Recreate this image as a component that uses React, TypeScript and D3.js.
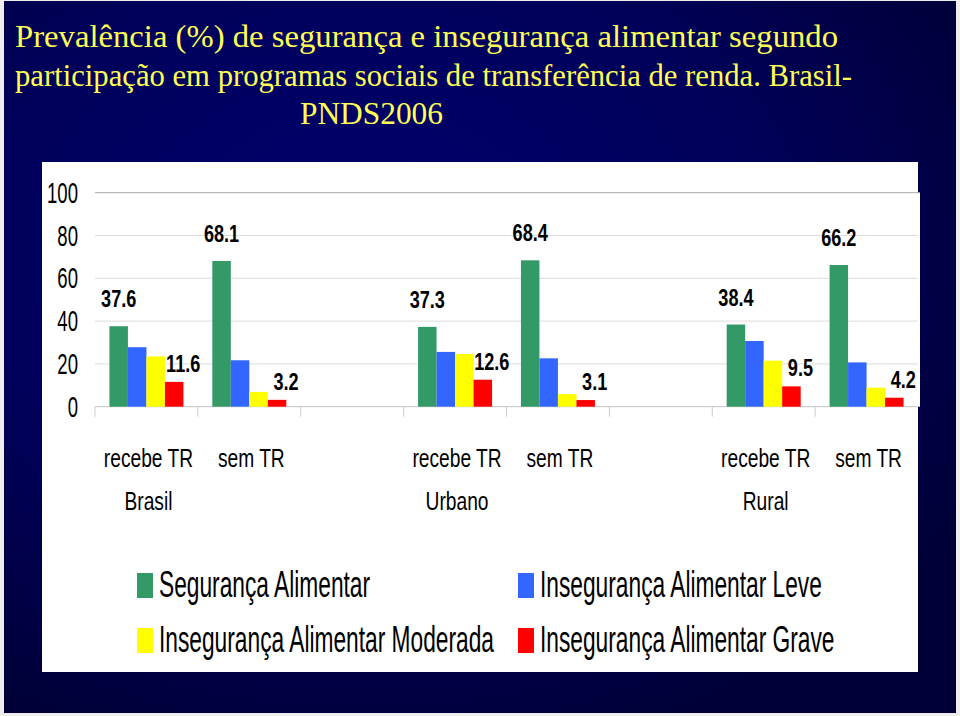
import React from "react";
import * as d3 from "d3";

const titleLines = [
  "Prevalência (%) de segurança e insegurança alimentar segundo",
  "participação em programas sociais de transferência de renda. Brasil-",
  "PNDS2006",
];
const titleWidths = [823, 837, 143];

const categories = [
  "recebe TR\nBrasil",
  "sem TR",
  "",
  "recebe TR\nUrbano",
  "sem TR",
  "",
  "recebe TR\nRural",
  "sem TR",
];

const seriesNames = [
  "Segurança Alimentar",
  "Insegurança Alimentar Leve",
  "Insegurança Alimentar Moderada",
  "Insegurança Alimentar Grave",
];
const seriesColors = ["#339966", "#3366ff", "#ffff00", "#ff0000"];

const seguranca = [37.6, 68.1, null, 37.3, 68.4, null, 38.4, 66.2];
const leve = [27.8, 21.7, null, 25.6, 22.6, null, 30.7, 20.7];
const moderada = [23.5, 6.9, null, 24.6, 5.9, null, 21.5, 8.9];
const grave = [11.6, 3.2, null, 12.6, 3.1, null, 9.5, 4.2];

const yTicks = [0, 20, 40, 60, 80, 100];

const W = 960;
const H = 716;

export default function App() {
  const values = [seguranca, leve, moderada, grave];
  const left = 95;
  const right = 918;
  const top = 192.7;
  const bottom = 406.7;

  const x = d3
    .scaleBand<number>()
    .domain(categories.map((_, i) => i))
    .range([left, right])
    .padding(0);
  const inner = d3
    .scaleBand<number>()
    .domain(seriesNames.map((_, i) => i))
    .range([0, x.bandwidth()])
    .paddingInner(0)
    .paddingOuter(0.78);
  const y = d3.scaleLinear().domain([0, 100]).range([bottom, top]);

  const sansFont = "'Liberation Sans', Arial, sans-serif";

  return (
    <svg
      width={W}
      height={H}
      style={{ position: "absolute", left: 0, top: 0, display: "block" }}
    >
      <defs>
        <radialGradient id="bg" cx="38%" cy="35%" r="75%">
          <stop offset="0%" stopColor="#00006e" />
          <stop offset="55%" stopColor="#00005a" />
          <stop offset="100%" stopColor="#000036" />
        </radialGradient>
      </defs>
      <rect x={0} y={0} width={W} height={H} fill="#eeeeee" />
      <rect x={4} y={1} width={952} height={712} fill="url(#bg)" />

      {titleLines.map((t, i) => (
        <text
          key={i}
          x={i === 2 ? 300 : 15}
          y={47 + i * 38.5}
          fill="#ffff55"
          fontFamily="'Liberation Serif', 'Times New Roman', serif"
          fontSize={30.5}
          textLength={titleWidths[i]}
          lengthAdjust="spacingAndGlyphs"
        >
          {t}
        </text>
      ))}

      {/* white panel */}
      <rect x={42} y={162} width={876} height={510} fill="#ffffff" />
      <rect x={left} y={top} width={920 - left} height={bottom - top} fill="#ffffff" />

      {/* gridlines */}
      {yTicks.map((t) => (
        <line
          key={t}
          x1={left}
          x2={t === 100 ? 920 : right}
          y1={y(t)}
          y2={y(t)}
          stroke={t === 100 ? "#a8a8a8" : t === 0 ? "#c4c4c4" : "#dcdcdc"}
          strokeWidth={1}
        />
      ))}

      {/* category ticks */}
      {categories.map((_, i) => (
        <line
          key={i}
          x1={x(i)!}
          x2={x(i)!}
          y1={bottom}
          y2={bottom + 10}
          stroke="#cccccc"
          strokeWidth={1}
        />
      ))}

      {/* y tick labels */}
      {yTicks.map((t) => (
        <text
          key={t}
          transform={`translate(78,${y(t) + 10}) scale(0.64,1)`}
          textAnchor="end"
          fontFamily={sansFont}
          fontSize={29}
          fill="#000"
        >
          {t}
        </text>
      ))}

      {/* bars */}
      {values.map((arr, s) =>
        arr.map((v, i) =>
          v == null ? null : (
            <rect
              key={`${s}-${i}`}
              x={x(i)! + inner(s)!}
              y={y(v)}
              width={inner.bandwidth()}
              height={y(0) - y(v)}
              fill={seriesColors[s]}
            />
          )
        )
      )}

      {/* value labels: green */}
      {seguranca.map((v, i) =>
        v == null ? null : (
          <text
            key={`g${i}`}
            transform={`translate(${x(i)! + inner(0)! + inner.bandwidth() / 2},${y(v) - 19}) scale(0.77,1)`}
            textAnchor="middle"
            fontFamily={sansFont}
            fontWeight="bold"
            fontSize={23.5}
            fill="#000"
          >
            {v.toFixed(1)}
          </text>
        )
      )}
      {/* value labels: red */}
      {grave.map((v, i) =>
        v == null ? null : (
          <text
            key={`r${i}`}
            transform={`translate(${x(i)! + inner(3)! + inner.bandwidth() / 2 + 9},${y(v) - 10}) scale(0.77,1)`}
            textAnchor="middle"
            fontFamily={sansFont}
            fontWeight="bold"
            fontSize={23.5}
            fill="#000"
          >
            {v.toFixed(1)}
          </text>
        )
      )}

      {/* category labels */}
      {categories.map((c, i) =>
        c.split("\n").map((line, j) => (
          <text
            key={`c${i}-${j}`}
            transform={`translate(${x(i)! + x.bandwidth() / 2 + 2},${467 + j * 43}) scale(0.8,1.05)`}
            textAnchor="middle"
            fontFamily={sansFont}
            fontSize={24}
            fill="#000"
          >
            {line}
          </text>
        ))
      )}

      {/* legend */}
      {seriesNames.map((name, s) => {
        const col = s % 2;
        const row = Math.floor(s / 2);
        const lx = col === 0 ? 137 : 518;
        const ly = 573 + row * 55;
        return (
          <g key={name}>
            <rect x={lx} y={ly} width={16} height={25} fill={seriesColors[s]} />
            <text
              transform={`translate(${lx + 22},${ly + 24}) scale(0.65,1.05)`}
              fontFamily={sansFont}
              fontSize={35}
              fill="#000"
            >
              {name}
            </text>
          </g>
        );
      })}
    </svg>
  );
}
